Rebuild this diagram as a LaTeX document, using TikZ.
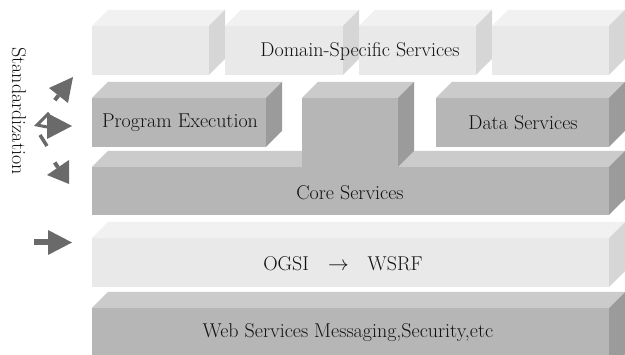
\documentclass[tikz,border=0pt]{standalone}
\usetikzlibrary{calc}
\definecolor{lightfront}{HTML}{E9E9E9}
\definecolor{lighttop}{HTML}{F1F1F1}
\definecolor{lightside}{HTML}{D6D6D6}
\definecolor{darkfront}{HTML}{B6B6B6}
\definecolor{darktop}{HTML}{CBCBCB}
\definecolor{darkside}{HTML}{9B9B9B}
\definecolor{arrowgray}{HTML}{6A6A6A}
\definecolor{inkgray}{HTML}{121212}

% A slab with a visible top face and right face; depth 16 units.
% #1,#2 = top-left of front face, #3,#4 = bottom-right of front face,
% #5 front colour, #6 top colour, #7 side colour
\newcommand\cuboid[7]{%
  \fill[#6] (#1,#2) -- (#1+16,#2-16) -- (#3+16,#2-16) -- (#3,#2) -- cycle;
  \fill[#7] (#3,#2) -- (#3+16,#2-16) -- (#3+16,#4-16) -- (#3,#4) -- cycle;
  \fill[#5] (#1,#2) rectangle (#3,#4);
}

\begin{document}
\begin{tikzpicture}[x=1pt,y=-1pt,
  label/.style={font=\fontsize{20}{23}\selectfont, text=inkgray, inner sep=0pt},
  headfill/.style={fill=arrowgray},
  stub/.style={draw=arrowgray, line width=4pt}]
\useasboundingbox (0,0) rectangle (625,355);
\begin{scope}
\clip (0,0) rectangle (625,355);

% top row: domain-specific service blocks
\cuboid{92}{26}{209}{75}{lightfront}{lighttop}{lightside}
\cuboid{225}{26}{343}{75}{lightfront}{lighttop}{lightside}
\cuboid{359}{26}{476}{75}{lightfront}{lighttop}{lightside}
\cuboid{492}{26}{609}{75}{lightfront}{lighttop}{lightside}

% core services slab and its raised middle block
\cuboid{92}{167}{609}{215}{darkfront}{darktop}{darkside}
\cuboid{302}{98}{398}{167}{darkfront}{darktop}{darkside}

% middle row
\cuboid{92}{98}{266}{147}{darkfront}{darktop}{darkside}
\cuboid{436}{98}{609}{147}{darkfront}{darktop}{darkside}

% OGSI / WSRF layer
\cuboid{92}{238}{609}{287}{lightfront}{lighttop}{lightside}

% messaging layer
\cuboid{92}{308}{609}{370}{darkfront}{darktop}{darkside}
\end{scope}

% labels
\node[label] (dss) at (360,51) {Domain-Specific Services};
\node[label] (pe)  at (180,123) {Program Execution};
\node[label] (ds)  at (523,123) {Data Services};
\node[label] (cs)  at (350,193) {Core Services};
\node[label] (ow)  at (343,264) {OGSI\hspace{19pt}$\rightarrow$\hspace{19pt}WSRF};
\node[label] (wsm) at (348,333) {Web Services Messaging,Security,etc};
\node[label, rotate=-90] (std) at (19,111) {Standardization};

% standardization arrows
\draw[stub] (58.5,95.5) -- (54.8,100.2);
\fill[headfill] (73,77) -- (49,88) -- (68,103) -- cycle;

\fill[headfill] (47,113) -- (72,126) -- (47,139) -- cycle;
\draw[draw=arrowgray, line width=3pt] (49,113) -- (37,125) -- (47,127);
\draw[draw=arrowgray, line width=3.5pt] (40,135) -- (47,146);

\draw[stub] (58,167.5) -- (54.7,162.5);
\fill[headfill] (69,160) -- (69,184) -- (47,175) -- cycle;

% arrow into the OGSI layer
\fill[headfill] (34,239.5) rectangle (48,245);
\fill[headfill] (48,230) -- (72,242.5) -- (48,255) -- cycle;
\end{tikzpicture}
\end{document}
